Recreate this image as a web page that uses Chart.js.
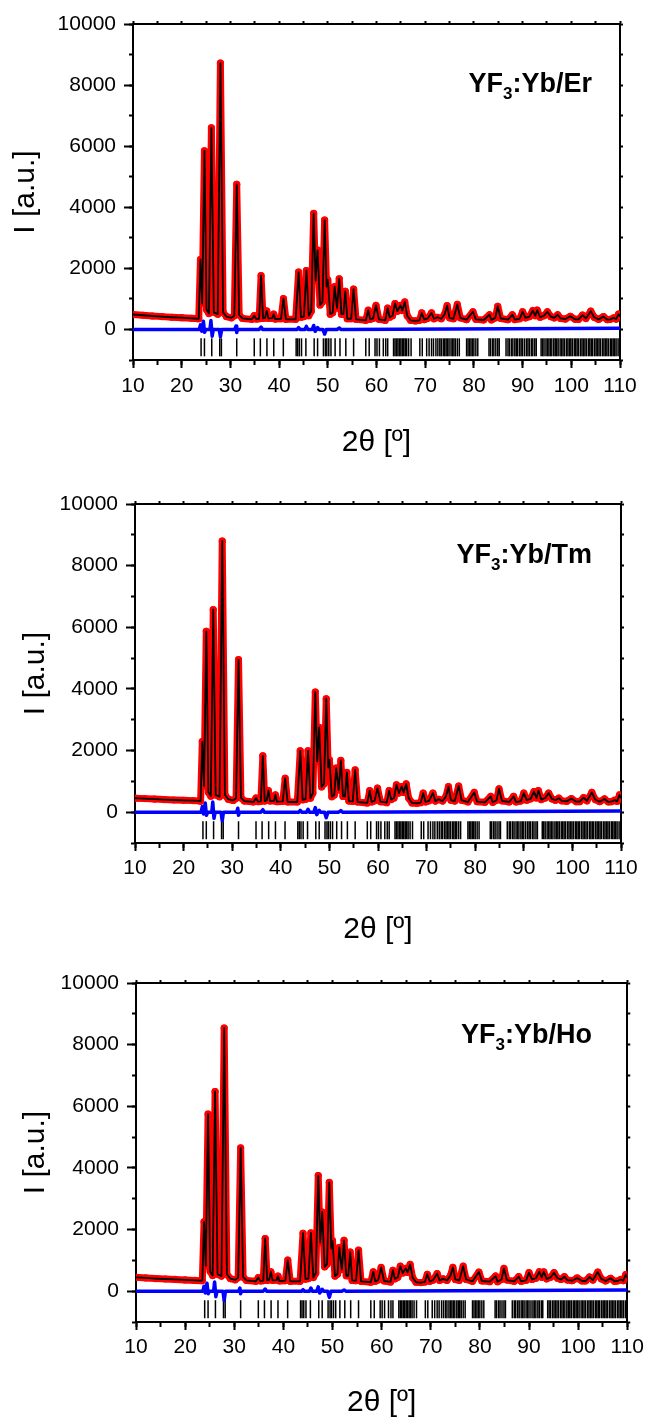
<!DOCTYPE html>
<html>
<head>
<meta charset="utf-8">
<script src="https://cdn.jsdelivr.net/npm/chart.js@4.4.0/dist/chart.umd.min.js"></script>
<style>
  body { margin: 0; background: #fff; }
  .panel { position: absolute; left: 0; width: 649px; }
  canvas { display: block; }
</style>
</head>
<body>
<div class="panel" style="top:0px"><canvas id="pEr" width="649" height="470"></canvas></div>
<div class="panel" style="top:470px"><canvas id="pTm" width="649" height="480"></canvas></div>
<div class="panel" style="top:950px"><canvas id="pHo" width="649" height="473"></canvas></div>
<script>
// 2theta grid of the refined profile (deg)
var twoTheta = [10, 12, 14, 16, 18, 20, 22, 23.4,
  23.5, 23.85, 24.2, 24.67, 25.1, 25.6, 26.1, 26.6, 27.4, 27.95, 28.5, 29.2, 30.2, 30.8, 31.3, 31.8, 32.5,
  34.4, 34.9, 35.3, 35.9, 36.3, 36.7, 37.1, 37.45, 37.8, 38.6, 38.9, 39.2, 40.4, 40.9, 41.4,
  43.4, 44.0, 44.5, 45.1, 45.6, 46.1, 46.6, 47.1, 47.5, 47.9, 48.4, 48.9, 49.35, 49.75, 50.0, 50.5,
  51.0, 51.4, 51.9, 52.35, 52.8, 53.2, 53.6, 54.0, 54.8, 55.3, 55.8,
  57.8, 58.3, 58.7, 59.3, 59.9, 60.5, 61.8, 62.3, 62.7, 63.3, 63.8, 64.3, 64.9, 65.3, 65.8, 66.3,
  67.0, 68.0, 68.8, 69.3, 69.8, 70.5, 71.3, 71.8, 72.5, 73.3, 74.0, 74.5, 75.0, 75.8, 76.6, 77.2,
  78.5, 79.8, 80.4, 82.0, 83.2, 83.6, 84.4, 84.9, 85.5, 87.0, 87.9, 88.4, 89.4, 90.0, 90.6,
  91.4, 92.1, 92.6, 93.0, 93.6, 94.4, 95.1, 95.8, 96.5, 97.2, 97.8, 98.8, 99.8, 100.8, 101.5,
  102.3, 103.0, 104.0, 104.7, 105.6, 106.6, 107.4, 108.0, 108.7, 109.2, 109.7, 110];

var intensityEr = [490, 465, 440, 420, 400, 385, 365, 350,
  360, 2290, 850, 5850, 650, 520, 6600, 560, 500, 8720, 560, 420, 380, 450, 4750, 470, 360,
  330, 450, 340, 350, 1760, 360, 380, 610, 360, 370, 500, 340, 350, 1010, 330,
  330, 1880, 400, 420, 1930, 450, 600, 3800, 1600, 2600, 800, 900, 3580, 1400, 1620, 500,
  550, 1400, 700, 1660, 500, 500, 1250, 350, 350, 1320, 330,
  300, 630, 330, 360, 790, 330, 300, 700, 400, 450, 850, 600, 790, 620, 900, 450,
  300, 280, 300, 540, 320, 360, 540, 350, 400, 350, 500, 780, 380, 350, 820, 380,
  320, 580, 330, 310, 480, 310, 380, 760, 360, 320, 480, 320, 350, 580, 380,
  420, 620, 450, 630, 400, 450, 580, 420, 380, 480, 360, 340, 430, 330, 330,
  470, 360, 600, 400, 330, 420, 320, 330, 380, 340, 500, 420];

var intensityTm = [455, 440, 425, 410, 395, 385, 375, 365,
  360, 2290, 850, 5870, 650, 520, 6570, 560, 500, 8800, 560, 420, 380, 450, 4950, 470, 360,
  330, 460, 340, 350, 1830, 360, 380, 700, 360, 370, 560, 340, 350, 1100, 330,
  330, 1990, 400, 420, 1990, 450, 620, 3900, 1650, 2750, 820, 920, 3680, 1450, 1700, 500,
  560, 1430, 720, 1680, 510, 510, 1290, 360, 350, 1370, 330,
  300, 700, 330, 370, 780, 340, 310, 700, 410, 460, 890, 620, 830, 640, 920, 460,
  300, 290, 310, 620, 330, 370, 620, 360, 420, 360, 520, 830, 390, 360, 850, 390,
  330, 640, 340, 320, 510, 320, 390, 760, 370, 330, 510, 330, 360, 620, 390,
  430, 670, 460, 700, 410, 460, 620, 430, 390, 455, 370, 350, 440, 340, 340,
  470, 370, 640, 410, 340, 430, 330, 340, 390, 350, 560, 450];

var intensityHo = [450, 430, 410, 395, 380, 365, 350, 340,
  350, 2250, 820, 5750, 640, 510, 6480, 550, 490, 8540, 550, 410, 370, 440, 4650, 460, 350,
  320, 440, 330, 340, 1710, 350, 370, 630, 350, 360, 490, 330, 340, 1010, 320,
  320, 1880, 390, 410, 1890, 440, 590, 3750, 1580, 2570, 790, 880, 3530, 1380, 1640, 490,
  550, 1420, 700, 1650, 500, 500, 1270, 350, 340, 1330, 320,
  290, 630, 320, 360, 770, 330, 300, 680, 400, 450, 810, 590, 740, 610, 870, 440,
  290, 280, 300, 550, 320, 360, 570, 350, 400, 350, 500, 770, 380, 350, 810, 380,
  320, 620, 330, 310, 490, 310, 380, 740, 360, 320, 470, 320, 350, 600, 380,
  420, 630, 450, 630, 400, 450, 600, 420, 380, 470, 360, 340, 430, 330, 330,
  460, 360, 620, 400, 330, 420, 320, 330, 380, 340, 540, 440];

// difference curve (obs - calc)
var diffTheta = [10, 23.6, 23.85, 24.1, 24.45, 24.7, 24.95, 25.8, 26.0, 26.25,
  26.5, 27.7, 27.95, 28.2, 30.9, 31.15, 31.3, 31.5, 35.9, 36.3,
  36.6, 43.7, 44.0, 44.3, 45.3, 45.6, 45.9, 46.8, 47.1, 47.4,
  47.7, 47.9, 48.2, 49.0, 49.35, 49.7, 51.9, 52.35, 52.7, 110];
var diffEr = [0, 0, 150, -60, 270, -90, 0, 0, 290, -220,
  0, 0, -240, 0, 0, 110, -100, 0, 0, 80,
  0, 0, 60, 0, 0, 100, 0, 0, 130, -60,
  0, 60, 0, 0, -150, 0, 0, 50, 0, 40];
var diffTm = [0, 0, 180, -60, 300, -100, 0, 0, 330, -200,
  0, 0, -280, 0, 0, 130, -100, 0, 0, 80,
  0, 0, 60, 0, 0, 90, 0, 0, 150, -80,
  0, 60, 0, 0, -180, 0, 0, 50, 0, 40];
var diffHo = [0, 0, 160, -60, 260, -80, 0, 0, 300, -180,
  0, 0, -300, 0, 0, 100, -80, 0, 0, 70,
  0, 0, 50, 0, 0, 100, 0, 0, 140, -60,
  0, 60, 0, 0, -200, 0, 0, 40, 0, 40];

// Bragg reflection positions (deg)
var braggPos = [23.98, 24.67, 26.17, 27.81, 28.15, 31.3, 34.9, 36.15, 37.5, 38.9, 40.87,
  43.5, 43.8, 44.15, 44.6, 45.5, 47.2, 47.9, 49.1, 49.5, 49.8, 50.2, 50.65, 51.5, 52.5, 53.7, 55.3,
  57.8, 58.5, 59.7, 60.1, 60.6, 61.4, 61.9, 62.3, 63.5, 63.8, 64.1, 64.4, 64.7, 65.0, 65.3, 65.6,
  65.9, 66.2, 66.6, 67.1, 68.9, 69.4, 70.3, 70.8, 71.3, 71.7, 72.2, 72.6, 73.0, 73.3, 73.7, 74.0,
  74.3, 74.6, 74.9, 75.3, 75.6, 75.9, 76.2, 76.6, 77.0, 78.5, 78.8, 79.1, 79.4, 79.7, 80.0, 80.4,
  80.8, 83.1, 83.4, 83.8, 84.1, 84.5, 84.9, 85.2, 86.6, 87.0, 87.3, 87.7, 88.0, 88.4, 88.7, 89.0,
  89.4, 89.7, 90.0, 90.4, 90.8, 91.1, 91.4, 91.8, 92.1, 92.5, 92.8, 93.8, 94.1, 94.4, 94.8, 95.1,
  95.4, 95.7, 96.0, 96.4, 96.7, 97.0, 97.3, 97.7, 98.0, 98.3, 98.6, 99.0, 99.3, 99.6, 99.9, 100.2,
  100.6, 100.9, 101.2, 101.5, 101.9, 102.2, 102.5, 102.8, 103.1, 103.5, 103.8, 104.1, 104.4, 104.8,
  105.1, 105.4, 105.7, 106.0, 106.4, 106.7, 107.0, 107.3, 107.6, 108.0, 108.3, 108.6, 108.9, 109.2,
  109.6, 109.9];
var braggLevel = -585;

var yTicks = [0, 2000, 4000, 6000, 8000, 10000];
var xTicks = [10, 20, 30, 40, 50, 60, 70, 80, 90, 100, 110];

var FONT = '"Liberation Sans", Arial, Helvetica, sans-serif';

function pairs(xs, ys) {
  return xs.map(function (x, i) { return { x: x, y: ys[i] }; });
}

/* sample name in the upper right corner, YF3 with subscript */
var sampleLabel = {
  id: 'sampleLabel',
  afterDraw: function (chart, args, o) {
    var ctx = chart.ctx;
    var big = 'bold 27px ' + FONT, small = 'bold 17px ' + FONT;
    ctx.save();
    ctx.fillStyle = '#000';
    ctx.textBaseline = 'alphabetic';
    ctx.font = big;
    var w1 = ctx.measureText('YF').width;
    var w3 = ctx.measureText(':Yb/' + o.ion).width;
    ctx.font = small;
    var w2 = ctx.measureText('3').width;
    var x = o.right - (w1 + w2 + w3);
    ctx.font = big;
    ctx.fillText('YF', x, o.baseline);
    ctx.font = small;
    ctx.fillText('3', x + w1, o.baseline + 7);
    ctx.font = big;
    ctx.fillText(':Yb/' + o.ion, x + w1 + w2, o.baseline);
    ctx.restore();
  }
};

function makePanel(id, ion, intensity, diff, a) {
  var black = '#000';
  var frame = { color: black, width: 2 };
  var noGrid = function (len) {
    return { drawOnChartArea: false, tickLength: len, tickWidth: 2, tickColor: black };
  };
  var lbl = function (v) { return String(v); };

  return new Chart(document.getElementById(id), {
    type: 'line',
    data: {
      datasets: [
        {
          label: 'Calculated',
          data: pairs(twoTheta, intensity),
          borderColor: '#000',
          borderWidth: 1.8,
          borderJoinStyle: 'round',
          pointRadius: 0,
          tension: 0
        },
        {
          label: 'Observed',
          data: pairs(twoTheta, intensity),
          borderColor: '#ff0000',
          borderWidth: 7,
          borderJoinStyle: 'round',
          borderCapStyle: 'round',
          pointRadius: 3.6,
          pointBorderWidth: 0,
          pointBackgroundColor: '#ff0000',
          tension: 0
        },
        {
          label: 'Difference',
          data: pairs(diffTheta, diff),
          borderColor: '#0000ff',
          borderWidth: 3.5,
          borderJoinStyle: 'round',
          pointRadius: 0,
          tension: 0
        },
        {
          label: 'Bragg positions',
          data: braggPos.map(function (p) { return { x: p, y: braggLevel }; }),
          showLine: false,
          pointStyle: 'line',
          rotation: 90,
          pointRadius: 9,
          pointBorderWidth: 1.5,
          pointBorderColor: '#000'
        }
      ]
    },
    options: {
      responsive: false,
      animation: false,
      layout: { padding: 0 },
      plugins: {
        legend: { display: false },
        tooltip: { enabled: false },
        sampleLabel: { ion: ion, right: 592, baseline: a.labelY }
      },
      scales: {
        x: {
          type: 'linear', position: 'bottom', weight: 1, min: 10, max: 110,
          ticks: { stepSize: 10, autoSkip: false, maxRotation: 0, padding: a.xLabelPad, color: black,
                   font: { family: FONT, size: 21 }, callback: lbl },
          afterBuildTicks: function (s) { s.ticks = xTicks.map(function (v) { return { value: v }; }); },
          grid: noGrid(8), border: frame,
          title: { display: true, text: '2θ [º]', color: black, font: { family: FONT, size: 30 },
                   padding: { top: 0, bottom: a.xTitlePad } },
          afterFit: function (s) { s.height = a.H - a.bottom; }
        },
        xMinor: {
          type: 'linear', position: 'bottom', weight: 0, min: 10, max: 110,
          ticks: { stepSize: 5, display: false },
          grid: noGrid(5), border: frame,
          afterFit: function (s) { s.height = 0; }
        },
        xTop: {
          type: 'linear', position: 'top', min: 10, max: 110,
          ticks: { stepSize: 5, display: false },
          grid: noGrid(3), border: frame,
          afterFit: function (s) { s.height = a.top; }
        },
        y: {
          type: 'linear', position: 'left', weight: 1, min: -1000, max: 10000,
          ticks: { stepSize: 2000, includeBounds: false, autoSkip: false, padding: 8, color: black,
                   font: { family: FONT, size: 21 }, callback: lbl },
          afterBuildTicks: function (s) { s.ticks = yTicks.map(function (v) { return { value: v }; }); },
          grid: noGrid(9), border: frame,
          title: { display: true, text: 'I [a.u.]', color: black, font: { family: FONT, size: 30 },
                   padding: { top: a.yTitlePad, bottom: 0 } },
          afterFit: function (s) { s.width = a.left; }
        },
        yMinor: {
          type: 'linear', position: 'left', weight: 0, min: -1000, max: 10000,
          ticks: { stepSize: 1000, display: false },
          grid: noGrid(4), border: frame,
          afterFit: function (s) { s.width = 0; }
        },
        yRight: {
          type: 'linear', position: 'right', min: -1000, max: 10000,
          ticks: { stepSize: 1000, display: false },
          grid: noGrid(3), border: frame,
          afterFit: function (s) { s.width = 649 - a.right; }
        }
      }
    },
    plugins: [sampleLabel]
  });
}

makePanel('pEr', 'Er', intensityEr, diffEr,
  { H: 470, left: 133, right: 620, top: 24, bottom: 360, xLabelPad: 6, xTitlePad: 9, yTitlePad: 8, labelY: 92 });
makePanel('pTm', 'Tm', intensityTm, diffTm,
  { H: 480, left: 135, right: 621, top: 34, bottom: 373, xLabelPad: 5, xTitlePad: 2, yTitlePad: 18, labelY: 93 });
makePanel('pHo', 'Ho', intensityHo, diffHo,
  { H: 473, left: 136, right: 628, top: 33, bottom: 372, xLabelPad: 5, xTitlePad: 2, yTitlePad: 18, labelY: 93 });
</script>
</body>
</html>
